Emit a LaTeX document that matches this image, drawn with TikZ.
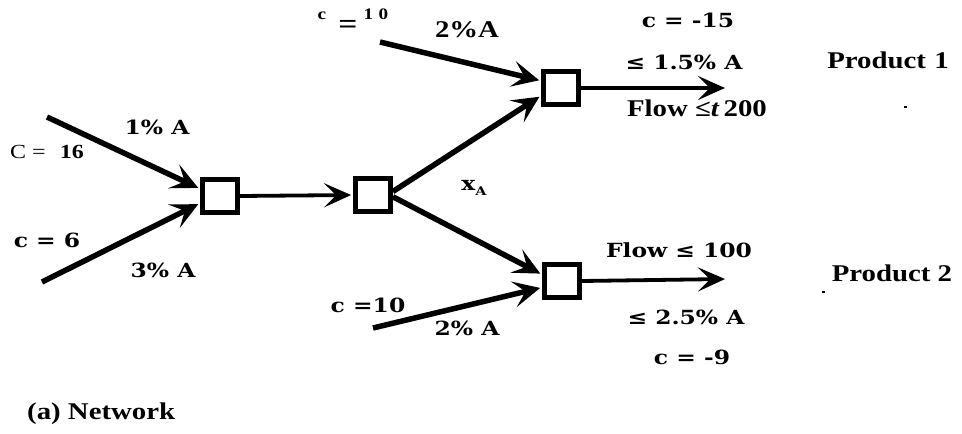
\documentclass[tikz,border=0pt]{standalone}
\usepackage{fontspec}
\setmainfont{Liberation Serif}[FakeStretch=1.2]
\newfontfamily\heavyfont{DejaVu Serif}[FakeStretch=1.2]
\usetikzlibrary{arrows.meta}
\begin{document}
\begin{tikzpicture}[x=1pt,y=-1pt,
  unit/.style={draw, line width=4.8pt, minimum width=35pt, minimum height=33pt, inner sep=0pt},
  feed/.style={line width=5.5pt, shorten >=2pt, -{Stealth[length=27pt,width=26pt,inset=12pt]}},
  link/.style={line width=3.8pt, shorten >=2pt, -{Stealth[length=27pt,width=24pt,inset=12pt]}},
  heavy/.style={font=\heavyfont\bfseries\fontsize{19.5}{19.5}\selectfont, inner sep=0pt},
  serif/.style={font=\bfseries\fontsize{24}{24}\selectfont, inner sep=0pt},
  speck/.style={fill=black, minimum width=3pt, minimum height=2pt, inner sep=0pt}]
\useasboundingbox (0,0) rectangle (962,434);

% processing units
\node[unit] (m1) at (220,196) {};
\node[unit] (m2) at (373,195) {};
\node[unit] (p1) at (561,88) {};
\node[unit] (p2) at (562,281) {};

% free ends of the feed and product streams
\coordinate (s1) at (47,117);
\coordinate (s2) at (42,282);
\coordinate (s3) at (380,42);
\coordinate (s4) at (373,328);
\coordinate (o1) at (727,88);
\coordinate (o2) at (727,279);

% streams
\draw[feed] (s1) -- (m1.160);
\draw[feed] (s2) -- (m1.200);
\draw[link] (m1.east) -- (m2.west);
\draw[feed] (m2.10) -- (p1.201);
\draw[feed] (m2.-5) -- (p2.162);
\draw[feed] (s3) -- (p1.160);
\draw[feed] (s4) -- (p2.198);
\draw[link] (p1.east) -- (o1);
\draw[link] (p2.east) -- (o2);

% labels on the feeds
\node[heavy] (l1) at (157,127) {1\% A};
\node[inner sep=0pt, font=\fontsize{20}{20}\selectfont] (l2) at (47,152) {C =\hspace{0.7em}\textbf{16}};
\node[heavy] (l3) at (47,240) {c = 6};
\node[heavy] (l4) at (163,270) {3\% A};
\node[inner sep=0pt, font=\bfseries\fontsize{16}{16}\selectfont] (cA) at (322,16) {c};
\node[inner sep=0pt, font=\bfseries\fontsize{28}{28}\selectfont] (cB) at (348,27) {=};
\node[inner sep=0pt, font=\bfseries\fontsize{16}{16}\selectfont] (cC) at (376,14) {1\,\,0};
\node[serif] (l6) at (467,30) {2\%A};
\node[heavy] (l7) at (368,305) {c =10};
\node[heavy] (l8) at (467,328) {2\% A};
\node[heavy] (xa) at (474,188) {x\raisebox{-5pt}{\fontsize{12}{12}\selectfont A}};

% labels on the products
\node[heavy] (l9) at (688,20) {c = -15};
\node[heavy] (l10) at (684,62) {≤ 1.5\% A};
\node[serif] (l11) at (697,108) {Flow ≤\textit{t}\,200};
\node[serif] (pr1) at (888,60) {Product\hspace{0.35em}1};
\node[heavy] (l12) at (679,250) {Flow ≤ 100};
\node[serif] (pr2) at (892,273) {Product 2};
\node[heavy] (l13) at (686,317) {≤ 2.5\% A};
\node[heavy] (l14) at (692,357) {c = -9};

\node[speck] (d1) at (905,107) {};
\node[speck] (d2) at (823,292) {};

\node[serif, anchor=west] (cap) at (27,414) {(a) Network};
\end{tikzpicture}
\end{document}
